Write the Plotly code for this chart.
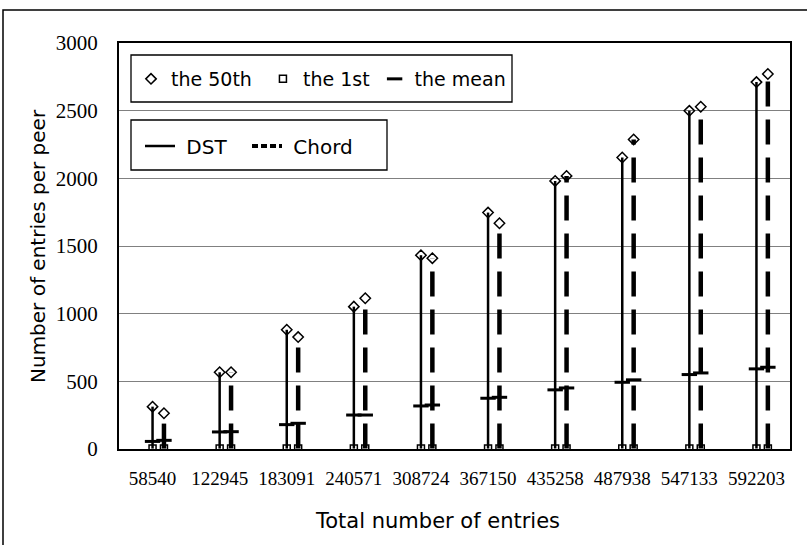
import plotly.graph_objects as go

# ---- data ----
categories = ["58540", "122945", "183091", "240571", "308724",
              "367150", "435258", "487938", "547133", "592203"]
dst_p50 = [313, 567, 881, 1052, 1432, 1747, 1981, 2154, 2499, 2711]
chord_p50 = [264, 567, 827, 1114, 1410, 1668, 2018, 2287, 2529, 2771]
dst_mean = [56, 126, 180, 251, 318, 375, 437, 493, 550, 592]
chord_mean = [64, 128, 190, 251, 325, 382, 451, 511, 562, 604]
dst_first = [3, 3, 3, 3, 3, 3, 3, 3, 3, 3]
chord_first = [3, 3, 3, 3, 3, 3, 3, 3, 3, 3]
y_ticks = [0, 500, 1000, 1500, 2000, 2500, 3000]

# ---- layout geometry ----
W, H = 807, 545
L, R, T, B = 119, 790, 43, 449
CHORD_OFFSET = 0.17

idx = list(range(len(categories)))
x_dst = [i for i in idx]
x_chord = [i + CHORD_OFFSET for i in idx]


def segs(xs, y0s, y1s):
    X, Y = [], []
    for x, a, b in zip(xs, y0s, y1s):
        X += [x, x, None]
        Y += [a, b, None]
    return X, Y


NB = "\u00a0"
fig = go.Figure()

# vertical range lines
xd, yd = segs(x_dst, dst_first, dst_p50)
fig.add_trace(go.Scatter(x=xd, y=yd, mode="lines", name="DST",
                         line=dict(color="black", width=2.5),
                         legend="legend2", showlegend=False))
xc, yc = segs(x_chord, chord_first, chord_p50)
fig.add_trace(go.Scatter(x=xc, y=yc, mode="lines", name="Chord",
                         line=dict(color="black", width=4.5, dash="25px,13px"),
                         legend="legend2", showlegend=False))

# markers
fig.add_trace(go.Scatter(x=x_dst + x_chord, y=dst_p50 + chord_p50, mode="markers",
                         name="the 50th" + NB,
                         marker=dict(symbol="diamond-open", size=8, color="black",
                                     line=dict(width=1.5, color="black"))))
fig.add_trace(go.Scatter(x=x_dst + x_chord, y=dst_first + chord_first, mode="markers",
                         name="the 1st",
                         marker=dict(symbol="square-open", size=7, color="black",
                                     line=dict(width=1.5, color="black"))))
fig.add_trace(go.Scatter(x=x_dst + x_chord, y=dst_mean + chord_mean, mode="markers",
                         name="the mean",
                         marker=dict(symbol="line-ew", size=11, color="black",
                                     line=dict(width=3, color="black"))))

# legend proxies for the line styles
fig.add_trace(go.Scatter(x=[None], y=[None], mode="lines", name=NB + "DST",
                         line=dict(color="black", width=2.5), legend="legend2"))
fig.add_trace(go.Scatter(x=[None], y=[None], mode="lines", name=NB + "Chord",
                         line=dict(color="black", width=4, dash="6px,3px"),
                         legend="legend2"))

pw, ph = R - L, B - T


def px_x(p):
    return (p - L) / pw


def px_y(p):
    return (B - p) / ph


sans = "DejaVu Sans"
serif = "Liberation Serif"

box = dict(type="rect", xref="paper", yref="paper", layer="above",
           line=dict(color="black", width=1.3), fillcolor="white")

fig.update_layout(
    width=W, height=H,
    margin=dict(l=L, r=W - R, t=T, b=H - B),
    plot_bgcolor="white", paper_bgcolor="white",
    xaxis=dict(range=[-0.5, len(categories) - 0.5], tickmode="array",
               tickvals=idx, ticktext=categories,
               showline=True, linecolor="black", linewidth=2, mirror=True,
               showgrid=False, zeroline=False, ticks="",
               tickfont=dict(family=serif, size=19, color="black"),
               ticklabelstandoff=11),
    yaxis=dict(range=[0, 3000], tickmode="array", tickvals=y_ticks,
               showline=True, linecolor="black", linewidth=2, mirror=True,
               showgrid=True, gridcolor="#808080", gridwidth=1,
               zeroline=False, ticks="",
               tickfont=dict(family=serif, size=21, color="black"),
               ticklabelstandoff=15),
    legend=dict(orientation="h", x=px_x(131), y=px_y(79), xanchor="left", yanchor="middle",
                bgcolor="rgba(0,0,0,0)", borderwidth=0,
                font=dict(family=sans, size=19, color="black")),
    legend2=dict(orientation="h", x=px_x(140), y=px_y(146), xanchor="left", yanchor="middle",
                 bgcolor="rgba(0,0,0,0)", borderwidth=0,
                 font=dict(family=sans, size=20, color="black"),
                 entrywidth=62, entrywidthmode="pixels"),
    annotations=[
        dict(text="Number of entries per peer", xref="paper", yref="paper",
             x=px_x(38), y=0.5, textangle=-90, showarrow=False,
             xanchor="center", yanchor="middle",
             font=dict(family=sans, size=20, color="black")),
        dict(text="Total number of entries", xref="paper", yref="paper",
             x=px_x(437), y=px_y(521), showarrow=False,
             xanchor="center", yanchor="middle",
             font=dict(family=sans, size=21, color="black")),
    ],
    shapes=[
        dict(type="rect", xref="paper", yref="paper",
             x0=px_x(3), x1=px_x(840), y0=px_y(570), y1=px_y(10),
             line=dict(color="black", width=1.5), fillcolor="rgba(0,0,0,0)"),
        dict(box, x0=px_x(131), x1=px_x(512), y0=px_y(102), y1=px_y(55)),
        dict(box, x0=px_x(131), x1=px_x(387), y0=px_y(170), y1=px_y(120)),
    ],
)

fig.write_html("out.html")
